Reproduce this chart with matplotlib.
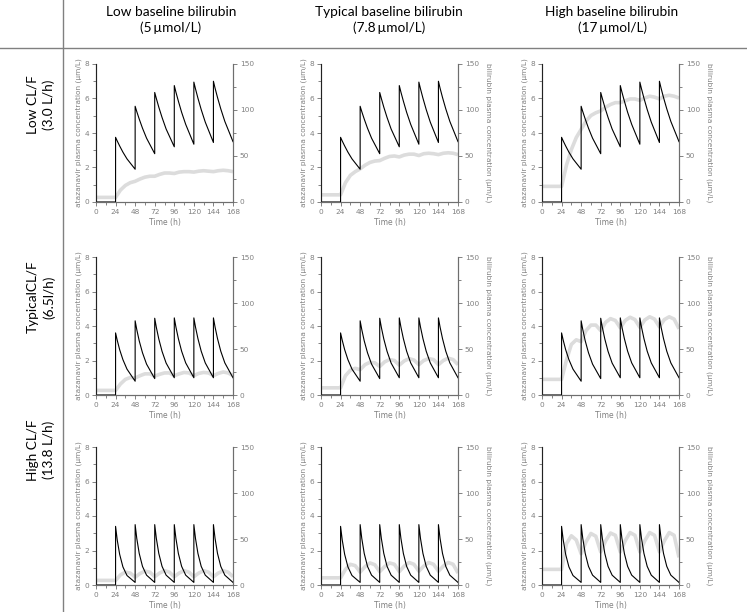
import numpy as np
import matplotlib.pyplot as plt
from matplotlib.lines import Line2D

# column / row headers
col_titles = ['Low baseline bilirubin\n(5\u2009\u00b5mol/L)',
              'Typical baseline bilirubin\n(7.8\u2009\u00b5mol/L)',
              'High baseline bilirubin\n(17\u2009\u00b5mol/L)']
row_titles = ['Low CL/F\n(3.0 L/h)', 'TypicalCL/F\n(6.5l/h)', 'High CL/F\n(13.8 L/h)']

# atazanavir: doses every 24 h, values read at these hours after each dose
dose_times = [24, 48, 72, 96, 120, 144]
dose_offsets = [0, 2, 5, 9, 14, 24]
ataz_low_cl = [
    [3.75, 3.54, 3.25, 2.89, 2.50, 1.90],
    [5.55, 5.24, 4.81, 4.28, 3.70, 2.80],
    [6.35, 6.00, 5.50, 4.90, 4.23, 3.20],
    [6.75, 6.37, 5.85, 5.20, 4.50, 3.35],
    [6.95, 6.56, 6.02, 5.36, 4.63, 3.45],
    [7.00, 6.60, 6.06, 5.40, 4.67, 3.50],
]
ataz_typ_cl = [
    [3.60, 3.18, 2.63, 2.05, 1.50, 0.80],
    [4.30, 3.79, 3.14, 2.45, 1.79, 0.95],
    [4.45, 3.92, 3.25, 2.53, 1.85, 1.00],
    [4.47, 3.94, 3.27, 2.54, 1.86, 1.00],
    [4.47, 3.94, 3.27, 2.54, 1.86, 1.00],
    [4.47, 3.94, 3.27, 2.54, 1.86, 1.00],
]
ataz_high_cl = [
    [3.40, 2.62, 1.78, 1.05, 0.55, 0.15],
    [3.50, 2.70, 1.83, 1.08, 0.57, 0.15],
    [3.50, 2.70, 1.83, 1.08, 0.57, 0.15],
    [3.50, 2.70, 1.83, 1.08, 0.57, 0.15],
    [3.50, 2.70, 1.83, 1.08, 0.57, 0.15],
    [3.50, 2.70, 1.83, 1.08, 0.57, 0.15],
]
ataz_rows = [ataz_low_cl, ataz_typ_cl, ataz_high_cl]

# bilirubin, read every 6 h from 24 to 168 h (baseline held from 0 to 24 h)
bili_times = [0] + list(range(24, 169, 6))
bili_low_low = [5, 5, 13, 18, 21, 22.5, 25, 27, 28, 28, 30, 31.5, 31.5, 31, 32.5, 33, 33, 32.5, 33.5, 34, 33.5, 33, 34, 34.5, 34, 33]
bili_low_typ = [7.8, 7.8, 21, 29, 33, 36, 40, 43, 44.5, 45, 47.5, 49.5, 50, 49, 51, 52, 52, 50.5, 52.5, 53, 52.5, 51.5, 53, 53.5, 53, 51.5]
bili_low_high = [17, 17, 40, 57, 70, 79, 88, 94, 97, 99, 103, 106, 108, 108, 110, 112, 112, 110.5, 113, 115, 114, 112, 115, 116, 115, 113]
bili_typ_low = [5, 5, 12, 17, 19, 18.5, 21, 23, 23, 20.5, 22.5, 24, 24, 21, 23, 24.5, 24, 21, 23.5, 24.5, 24, 21, 23.5, 25, 24, 21]
bili_typ_typ = [7.8, 7.8, 21, 27, 29, 27.5, 33, 35.5, 35, 31, 36, 38.5, 37.5, 32.5, 37, 39.5, 38, 33, 37.5, 39.5, 38.5, 33, 37.5, 40, 38.5, 33]
bili_typ_high = [17, 17, 38, 55, 60, 58, 70, 76, 76, 70, 79, 83, 81, 73, 81, 84.5, 82, 73.5, 81.5, 85, 82.5, 74, 82, 85, 82.5, 72]
bili_high_low = [5, 5, 11, 14, 13, 8.5, 12.5, 15, 14, 9, 13, 15.5, 14, 9, 13, 15.5, 14, 9, 13, 15.5, 14, 9, 13, 15.5, 14, 9]
bili_high_typ = [7.8, 7.8, 17, 22.5, 21, 14, 20, 24, 22, 14.5, 20, 24, 22.5, 14.5, 20.5, 24.5, 22.5, 15, 20.5, 24.5, 22.5, 15, 20.5, 24.5, 22.5, 13]
bili_high_high = [17, 17, 45, 53.5, 49, 34, 47, 56, 53, 36, 48, 56.5, 54, 36, 48, 57, 54, 36, 48, 57, 54, 36, 48, 57, 54, 30]
bili_grid = [[bili_low_low, bili_low_typ, bili_low_high],
             [bili_typ_low, bili_typ_typ, bili_typ_high],
             [bili_high_low, bili_high_typ, bili_high_high]]

plt.rcParams['font.family'] = 'DejaVu Sans'
fig = plt.figure(figsize=(7.47, 6.12), dpi=100)

col_left = [96, 321, 542]
row_top = [64, 257, 447]
pw, ph = 137, 138
W, H = 747, 612
spine_c = '#6e6e6e'
text_c = '#808080'


def ataz_series(doses):
    t = [0, 24]
    c = [0, 0]
    for d, vals in zip(dose_times, doses):
        t += [d + o for o in dose_offsets]
        c += vals
    return t, c


for r in range(3):
    tt, cc = ataz_series(ataz_rows[r])
    for k in range(3):
        ax = fig.add_axes([col_left[k] / W, 1 - (row_top[r] + ph) / H, pw / W, ph / H])
        ax2 = ax.twinx()
        ax2.plot(bili_times, bili_grid[r][k], color='#dcdcdc', lw=2.6, solid_capstyle='butt')
        ax.plot(tt, cc, color='black', lw=0.8)
        ax.set_zorder(ax2.get_zorder() + 1)
        ax.patch.set_visible(False)

        ax.set_xlim(0, 168)
        ax.set_ylim(0, 8)
        ax2.set_ylim(0, 150)
        ax.set_xticks(range(0, 169, 24))
        ax.set_xticks(range(0, 169, 12), minor=True)
        ax.set_yticks(range(0, 9, 2))
        ax.set_yticks(range(0, 9, 1), minor=True)
        ax2.set_yticks(range(0, 151, 50))
        ax2.set_yticks(range(0, 151, 25), minor=True)
        for a in (ax, ax2):
            a.tick_params(which='both', labelsize=5.3, colors=spine_c, labelcolor=text_c,
                          width=0.6, pad=2)
            a.tick_params(which='major', length=3)
            a.tick_params(which='minor', length=2)
            for s in a.spines.values():
                s.set_color(spine_c)
                s.set_linewidth(0.8)
            a.spines['top'].set_visible(False)
        ax.spines['left'].set_color('#222222')
        ax.set_xlabel('Time (h)', fontsize=5.5, color=text_c, labelpad=2)
        ax.set_ylabel('atazanavir plasma concentration (\u00b5m/L)', fontsize=5.3,
                      color=text_c, labelpad=2)
        if k > 0:
            ax2.set_ylabel('bilirubin plasma concentration (\u00b5m/L)', fontsize=5.3,
                           color=text_c, rotation=270, labelpad=9)

# headers
col_cx = [171, 389, 612]
for k in range(3):
    fig.text(col_cx[k] / W, 1 - 20 / H, col_titles[k], ha='center', va='center',
             fontsize=9.8, family='Lato', linespacing=1.35)
row_cy = [105, 297, 450]
for r in range(3):
    fig.text(41 / W, 1 - row_cy[r] / H, row_titles[r], ha='center', va='center',
             rotation=90, fontsize=9.8, family='Lato', linespacing=1.35)

# table lines
fig.add_artist(Line2D([63 / W, 63 / W], [0, 1], color='#808080', lw=1))
fig.add_artist(Line2D([0, 1], [1 - 48 / H, 1 - 48 / H], color='#808080', lw=1))

fig.savefig('out.png', dpi=100, facecolor='white')
